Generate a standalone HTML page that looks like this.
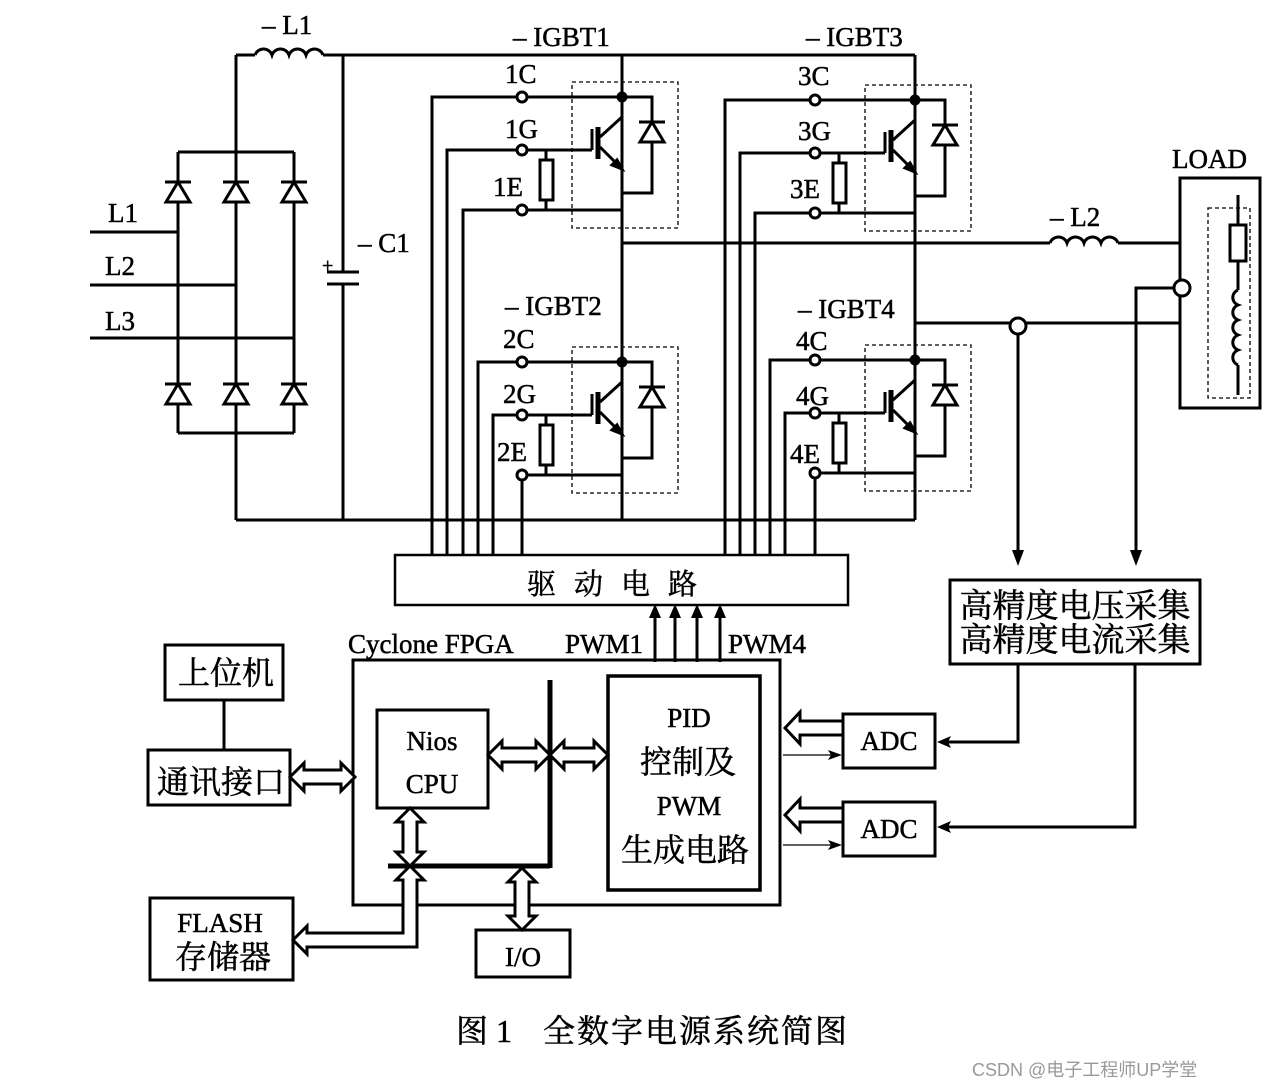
<!DOCTYPE html>
<html><head><meta charset="utf-8"><style>
html,body{margin:0;padding:0;background:#fff;}
svg{display:block;}
text{font-family:"Liberation Serif","Noto Serif CJK SC","Noto Sans CJK SC",serif;fill:#000;stroke:#000;stroke-width:0.5;}
</style></head><body>
<svg width="1266" height="1090" viewBox="0 0 1266 1090" xmlns="http://www.w3.org/2000/svg">
<defs>
<g id="igbt" fill="none" stroke="#000" stroke-width="3">
  <circle cx="0" cy="0" r="4" fill="#000"/>
  <circle cx="-100" cy="0" r="5" fill="#fff"/>
  <line x1="-95" y1="0" x2="0" y2="0"/>
  <polyline points="0,0 30,0 30,96 0,96"/>
  <polygon points="18,45 42,45 30,25" fill="#fff"/>
  <line x1="17" y1="25" x2="43" y2="25"/>
  <polyline points="0,0 0,20 -22,40"/>
  <polyline points="-22,50 0,72 0,113"/>
  <polygon points="0,72 -10,68 -5,63" fill="#000"/>
  <line x1="-24" y1="30" x2="-24" y2="62" stroke-width="5"/>
  <line x1="-30" y1="32" x2="-30" y2="53"/>
  <line x1="-95" y1="53" x2="-30" y2="53"/>
  <circle cx="-100" cy="53" r="5" fill="#fff"/>
  <rect x="-82" y="63" width="13" height="40" fill="#fff"/>
  <line x1="-76" y1="53" x2="-76" y2="63"/>
  <line x1="-76" y1="103" x2="-76" y2="113"/>
  <line x1="-95" y1="113" x2="0" y2="113"/>
  <circle cx="-100" cy="113" r="5" fill="#fff"/>
  <rect x="-50" y="-15" width="106" height="146" stroke-width="1.3" stroke-dasharray="4,3"/>
</g>
<g id="dio" fill="#fff" stroke="#000" stroke-width="3">
  <polygon points="-12,12 12,12 0,-8"/>
  <line x1="-13" y1="-8" x2="13" y2="-8"/>
</g>
</defs>

<g fill="none" stroke="#000" stroke-width="3">
<line x1="178" y1="152" x2="294" y2="152"/>
<line x1="178" y1="433" x2="294" y2="433"/>
<line x1="178" y1="152" x2="178" y2="433"/>
<line x1="236" y1="55" x2="236" y2="520"/>
<line x1="294" y1="152" x2="294" y2="433"/>
<line x1="90" y1="232" x2="178" y2="232"/>
<line x1="90" y1="285" x2="236" y2="285"/>
<line x1="90" y1="338" x2="294" y2="338"/>
<line x1="236" y1="55" x2="255" y2="55"/>
<path d="M255,55 a9,9 0 0 1 17,0 a9,9 0 0 1 17,0 a9,9 0 0 1 17,0 a9,9 0 0 1 17,0"/>
<line x1="323" y1="55" x2="915" y2="55"/>
<line x1="236" y1="520" x2="915" y2="520"/>
<line x1="343" y1="55" x2="343" y2="272"/>
<line x1="343" y1="284" x2="343" y2="520"/>
<line x1="327" y1="272" x2="359" y2="272"/>
<line x1="327" y1="284" x2="359" y2="284"/>
<line x1="622" y1="55" x2="622" y2="520"/>
<line x1="915" y1="55" x2="915" y2="520"/>
<line x1="622" y1="243" x2="1050" y2="243"/>
<path d="M1050,243 a9,9 0 0 1 17,0 a9,9 0 0 1 17,0 a9,9 0 0 1 17,0 a9,9 0 0 1 17,0"/>
<line x1="1118" y1="243" x2="1180" y2="243"/>
<line x1="915" y1="323" x2="1010" y2="323"/>
<circle cx="1018" cy="326" r="8" fill="#fff"/>
<line x1="1026" y1="323" x2="1180" y2="323"/>
<rect x="1180" y="178" width="80" height="230"/>
<circle cx="1182" cy="288" r="8" fill="#fff"/>
<polyline points="1174,288 1136,288 1136,558"/>
<line x1="1018" y1="334" x2="1018" y2="558"/>
<rect x="1208" y="208" width="42" height="190" stroke-width="1.3" stroke-dasharray="4,3"/>
<line x1="1238" y1="195" x2="1238" y2="225"/>
<rect x="1230" y="225" width="16" height="36" fill="#fff"/>
<line x1="1238" y1="261" x2="1238" y2="290"/>
<path d="M1238,290 a8,8 0 0 0 0,15 a8,8 0 0 0 0,15 a8,8 0 0 0 0,15 a8,8 0 0 0 0,15 a8,8 0 0 0 0,15"/>
<line x1="1238" y1="365" x2="1238" y2="395"/>
<polyline points="517,97 432,97 432,555"/>
<polyline points="517,150 447,150 447,555"/>
<polyline points="517,210 463,210 463,555"/>
<polyline points="517,362 478,362 478,555"/>
<polyline points="517,415 493,415 493,555"/>
<line x1="522" y1="480" x2="522" y2="555"/>
<polyline points="810,100 725,100 725,555"/>
<polyline points="810,153 740,153 740,555"/>
<polyline points="810,213 755,213 755,555"/>
<polyline points="810,360 770,360 770,555"/>
<polyline points="810,413 785,413 785,555"/>
<line x1="815" y1="478" x2="815" y2="555"/>
<rect x="395" y="555" width="453" height="50" stroke-width="2.5"/>
<line x1="655" y1="662" x2="655" y2="612"/>
<line x1="675" y1="662" x2="675" y2="612"/>
<line x1="697" y1="662" x2="697" y2="612"/>
<line x1="720" y1="662" x2="720" y2="612"/>
<rect x="950" y="580" width="250" height="84"/>
<rect x="165" y="645" width="118" height="55"/>
<line x1="224" y1="700" x2="224" y2="750"/>
<rect x="148" y="750" width="142" height="55"/>
<rect x="353" y="660" width="427" height="245"/>
<rect x="377" y="710" width="111" height="98"/>
<rect x="608" y="676" width="152" height="214" stroke-width="3.5"/>
<rect x="150" y="898" width="143" height="82"/>
<rect x="476" y="930" width="94" height="47"/>
<rect x="843" y="714" width="92" height="54"/>
<rect x="843" y="802" width="92" height="54"/>
<line x1="550" y1="680" x2="550" y2="868" stroke-width="5"/>
<line x1="388" y1="866" x2="550" y2="866" stroke-width="5"/>
<polyline points="1018,664 1018,742 945,742"/>
<polyline points="1135,664 1135,827 945,827"/>
<line x1="783" y1="755" x2="835" y2="755" stroke-width="1.3"/>
<line x1="783" y1="845" x2="835" y2="845" stroke-width="1.3"/>
</g>
<g fill="#000">
<polygon points="1018,566 1012,550 1024,550"/>
<polygon points="1136,566 1130,550 1142,550"/>
<polygon points="655,604 649,618 661,618"/>
<polygon points="675,604 669,618 681,618"/>
<polygon points="697,604 691,618 703,618"/>
<polygon points="720,604 714,618 726,618"/>
<polygon points="937,742 951,736 948,742 951,748"/>
<polygon points="937,827 951,821 948,827 951,833"/>
<polygon points="842,755 828,750 831,755 828,760"/>
<polygon points="842,845 828,840 831,845 828,850"/>
</g>
<use href="#dio" x="178" y="190"/><use href="#dio" x="236" y="190"/><use href="#dio" x="294" y="190"/>
<use href="#dio" x="178" y="392"/><use href="#dio" x="236" y="392"/><use href="#dio" x="294" y="392"/>
<use href="#igbt" x="622" y="97"/>
<use href="#igbt" x="622" y="362"/>
<use href="#igbt" x="915" y="100"/>
<use href="#igbt" x="915" y="360"/>
<g fill="#fff" stroke="#000" stroke-width="3">
<polygon points="290,777 304,763 304,770 341,770 341,763 355,777 341,791 341,784 304,784 304,791"/>
<polygon points="488,755 502,741 502,748 536,748 536,741 550,755 536,769 536,762 502,762 502,769"/>
<polygon points="550,755 564,741 564,748 594,748 594,741 608,755 594,769 594,762 564,762 564,769"/>
<polygon points="410,808 424,822 417,822 417,852 424,852 410,866 396,852 403,852 403,822 396,822"/>
<polygon points="410,866 424,880 417,880 417,947 307,947 307,954 293,940 307,926 307,933 403,933 403,880 396,880"/>
<polygon points="522,868 536,882 529,882 529,916 536,916 522,930 508,916 515,916 515,882 508,882"/>
<polygon points="785,728 800,712 800,721 843,721 843,735 800,735 800,744"/>
<polygon points="785,815 800,799 800,808 843,808 843,822 800,822 800,831"/>
</g>
<g font-size="27">
<text x="262" y="34">– L1</text>
<text x="358" y="252">– C1</text>
<text x="322" y="272" font-size="20">+</text>
<text x="108" y="222">L1</text>
<text x="105" y="275">L2</text>
<text x="105" y="330">L3</text>
<text x="513" y="46">– IGBT1</text>
<text x="806" y="46">– IGBT3</text>
<text x="505" y="315">– IGBT2</text>
<text x="798" y="318">– IGBT4</text>
<text x="1050" y="226">– L2</text>
<text x="1172" y="168">LOAD</text>
<text x="505" y="83">1C</text>
<text x="505" y="138">1G</text>
<text x="493" y="196">1E</text>
<text x="503" y="348">2C</text>
<text x="503" y="403">2G</text>
<text x="497" y="461">2E</text>
<text x="798" y="85">3C</text>
<text x="798" y="140">3G</text>
<text x="790" y="198">3E</text>
<text x="796" y="350">4C</text>
<text x="796" y="405">4G</text>
<text x="790" y="463">4E</text>
<text x="348" y="653">Cyclone FPGA</text>
<text x="565" y="653">PWM1</text>
<text x="728" y="653">PWM4</text>
<text x="432" y="750" text-anchor="middle">Nios</text>
<text x="432" y="793" text-anchor="middle">CPU</text>
<text x="689" y="727" text-anchor="middle">PID</text>
<text x="689" y="815" text-anchor="middle">PWM</text>
<text x="889" y="750" text-anchor="middle">ADC</text>
<text x="889" y="838" text-anchor="middle">ADC</text>
<text x="220" y="932" text-anchor="middle">FLASH</text>
<text x="523" y="966" text-anchor="middle">I/O</text>
</g>
<g font-size="32">
<text x="621" y="594" letter-spacing="18" text-anchor="middle" font-size="29">驱动电路</text>
<text x="226" y="684" text-anchor="middle">上位机</text>
<text x="221" y="793" text-anchor="middle">通讯接口</text>
<text x="223" y="968" text-anchor="middle">存储器</text>
<text x="688" y="773" text-anchor="middle">控制及</text>
<text x="685" y="861" text-anchor="middle">生成电路</text>
<text x="1075" y="617" text-anchor="middle" font-size="33">高精度电压采集</text>
<text x="1075" y="651" text-anchor="middle" font-size="33">高精度电流采集</text>
<text x="456" y="1042" font-size="32">图 1</text>
<text x="543" y="1042" font-size="32" letter-spacing="2">全数字电源系统简图</text>
</g>
<text x="972" y="1076" font-size="18" style="fill:#999;stroke:none;font-family:'Liberation Sans','Noto Sans CJK SC',sans-serif">CSDN @电子工程师UP学堂</text>
</svg>
</body></html>
